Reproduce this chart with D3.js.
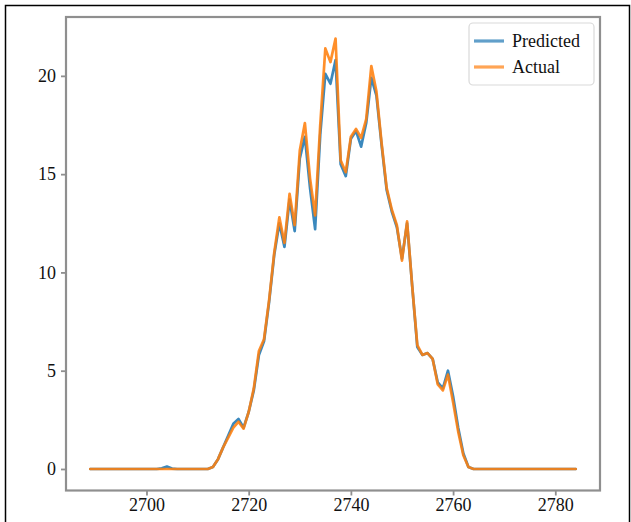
<!DOCTYPE html>
<html><head><meta charset="utf-8">
<script src="https://cdn.jsdelivr.net/npm/d3@7"></script>
<style>body{margin:0;background:#fff}svg{display:block}</style>
</head><body>
<script>
// ---- data ----
const startIndex = 2689;
const actual = [
  0,0,0,0,0,0,0,0,0,0,0,0,0,0,0,0,0,0,0,0,0,0,0,0,
  0.1,0.5,1.1,1.6,2.1,2.4,2.05,2.9,4.1,6.0,6.6,8.6,11.0,12.8,11.5,14.0,12.4,16.2,17.6,14.8,
  12.9,17.5,21.4,20.7,21.9,15.7,15.1,16.9,17.3,16.85,17.8,20.5,19.2,16.6,14.3,13.2,12.4,10.6,
  12.6,9.3,6.3,5.8,5.9,5.6,4.3,4.0,4.8,3.4,1.9,0.7,0.1,
  0,0,0,0,0,0,0,0,0,0,0,0,0,0,0,0,0,0,0,0,0
];
const predicted = [
  0,0,0,0,0,0,0,0,0,0,0,0,0,0,0.03,0.12,0.02,0,0,0,0,0,0,0,
  0.1,0.5,1.1,1.7,2.3,2.55,2.1,2.9,4.0,5.8,6.5,8.5,10.9,12.5,11.3,13.7,12.1,15.8,16.9,14.3,
  12.2,17.0,20.1,19.6,20.8,15.5,14.9,16.8,17.2,16.4,17.6,19.9,19.0,16.5,14.2,13.1,12.3,10.7,
  12.5,9.3,6.2,5.8,5.9,5.6,4.4,4.1,5.0,3.7,2.1,0.8,0.1,
  0,0,0,0,0,0,0,0,0,0,0,0,0,0,0,0,0,0,0,0,0
];
const xTicks = [2700, 2720, 2740, 2760, 2780];
const yTicks = [0, 5, 10, 15, 20];
const seriesNames = ["Predicted", "Actual"];
const seriesColors = ["#1f77b4", "#ff7f0e"];

// ---- layout ----
const W = 631, H = 522;
const L = 66, R = 600, T = 17, B = 490.5;
const font = "'Liberation Serif','Times New Roman',serif";
const spineColor = "#8f8f8f";

const svg = d3.select("body").append("svg").attr("width", W).attr("height", H);

// outer black frame
svg.append("rect").attr("x", 5.5).attr("y", 5.5).attr("width", 624).attr("height", 530)
  .attr("fill", "none").attr("stroke", "#000").attr("stroke-width", 1.5);

const idx = actual.map((d, i) => startIndex + i);
const xMin = d3.min(idx), xMax = d3.max(idx), xm = (xMax - xMin) * 0.05;
const x = d3.scaleLinear().domain([xMin - xm, xMax + xm]).range([L, R]);
const allY = actual.concat(predicted);
const yMin = d3.min(allY), yMax = d3.max(allY), ym = (yMax - yMin) * 0.05;
const y = d3.scaleLinear().domain([yMin - ym, yMax + ym]).range([B, T]);

// axes
const xAxis = svg.append("g").attr("transform", `translate(0,${B})`)
  .call(d3.axisBottom(x).tickValues(xTicks).tickFormat(d3.format("d")).tickSize(5).tickPadding(3));
const yAxis = svg.append("g").attr("transform", `translate(${L},0)`)
  .call(d3.axisLeft(y).tickValues(yTicks).tickFormat(d3.format("d")).tickSize(5).tickPadding(5));
[xAxis, yAxis].forEach(g => {
  g.select(".domain").remove();
  g.selectAll(".tick line").attr("stroke", spineColor).attr("stroke-width", 1.8);
  g.selectAll(".tick text").attr("font-family", font).attr("font-size", 18).attr("fill", "#111");
});

// spines
svg.append("rect").attr("x", L).attr("y", T).attr("width", R - L).attr("height", B - T)
  .attr("fill", "none").attr("stroke", spineColor).attr("stroke-width", 2.2);

// lines
const series = [predicted, actual];
const line = d3.line().x((d, i) => x(startIndex + i)).y(d => y(d));
series.forEach((s, k) => {
  svg.append("path").datum(s).attr("d", line).attr("fill", "none")
    .attr("stroke", seriesColors[k]).attr("stroke-width", 2.7)
    .attr("stroke-linejoin", "round").attr("stroke-linecap", "round")
    .attr("opacity", 0.88);
});

// legend
const lg = svg.append("g");
lg.append("rect").attr("x", 469).attr("y", 23).attr("width", 125).attr("height", 62).attr("rx", 4)
  .attr("fill", "#fff").attr("fill-opacity", 0.85).attr("stroke", "#d9d9d9").attr("stroke-width", 1.2);
seriesNames.forEach((n, k) => {
  const yy = 41 + k * 26;
  lg.append("line").attr("x1", 474).attr("x2", 504).attr("y1", yy).attr("y2", yy)
    .attr("stroke", seriesColors[k]).attr("stroke-width", 3.2).attr("opacity", 0.7);
  lg.append("text").attr("x", 512).attr("y", yy + 6).text(n)
    .attr("font-family", font).attr("font-size", 18).attr("fill", "#111");
});
</script>
</body></html>
